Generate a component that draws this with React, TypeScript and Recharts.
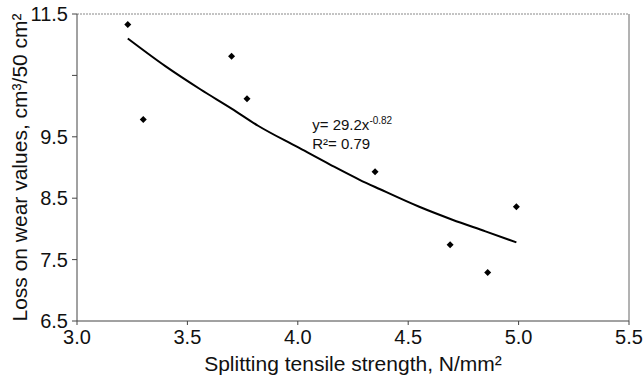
import {
  ComposedChart,
  Line,
  ReferenceDot,
  ReferenceLine,
  Scatter,
  XAxis,
  YAxis,
} from "recharts";

// measured points (splitting tensile strength vs loss on wear)
const strength = [3.23, 3.3, 3.7, 3.77, 4.35, 4.69, 4.86, 4.99];
const wearLoss = [11.33, 9.78, 10.81, 10.12, 8.93, 7.74, 7.29, 8.36];

// power trend line
const trendX = [3.23, 3.4, 3.56, 3.7, 3.82, 4.0, 4.15, 4.28, 4.37, 4.55, 4.7, 4.85, 4.99];
const trendY = [11.1, 10.65, 10.27, 9.96, 9.68, 9.33, 9.04, 8.8, 8.65, 8.36, 8.15, 7.96, 7.78];

const xTicks = [3.0, 3.5, 4.0, 4.5, 5.0, 5.5];
const yTicks = [6.5, 7.5, 8.5, 9.5, 10.5, 11.5];

const points = strength.map((x, i) => ({ x, y: wearLoss[i] }));
const trend = trendX.map((x, i) => ({ x, t: trendY[i] }));

const font = "'Liberation Sans', Arial, sans-serif";

function Diamond(props: any) {
  const { cx, cy } = props;
  const r = 3.5;
  return (
    <polygon
      points={`${cx},${cy - r} ${cx + r},${cy} ${cx},${cy + r} ${cx - r},${cy}`}
      fill="#000"
    />
  );
}

function Equation(props: any) {
  const { viewBox } = props;
  const x = viewBox.x;
  const y = viewBox.y;
  return (
    <g fontFamily={font} fill="#111">
      <text x={x} y={y} fontSize={15}>
        y= 29.2x
        <tspan dy={-6} fontSize={10}>
          -0.82
        </tspan>
      </text>
      <text x={x} y={y + 19} fontSize={15}>
        R²= 0.79
      </text>
    </g>
  );
}

export default function App() {
  return (
    <div
      style={{
        position: "absolute",
        left: 0,
        top: 0,
        width: 643,
        height: 375,
        background: "#fff",
        fontFamily: font,
      }}
    >
      <ComposedChart
        width={643}
        height={375}
        margin={{ top: 14, right: 14, left: 0, bottom: 0 }}
      >
        <XAxis
          type="number"
          dataKey="x"
          domain={[3.0, 5.5]}
          ticks={xTicks}
          tickFormatter={(v) => Number(v).toFixed(1)}
          height={54}
          tickSize={4}
          tickMargin={5}
          stroke="#444"
          tick={{ fill: "#111", fontSize: 20, fontFamily: font }}
          label={{
            value: "Splitting tensile strength, N/mm²",
            position: "insideBottom",
            offset: 4,
            fill: "#111",
            fontSize: 21,
            fontFamily: font,
          }}
          allowDataOverflow
        />
        <YAxis
          type="number"
          domain={[6.5, 11.5]}
          ticks={yTicks}
          tickFormatter={(v) => (v === 10.5 ? "" : Number(v).toFixed(1))}
          width={77}
          tickSize={5}
          tickMargin={4}
          stroke="#444"
          tick={{ fill: "#111", fontSize: 20, fontFamily: font }}
          label={{
            value: "Loss on wear values, cm³/50 cm²",
            angle: -90,
            position: "insideLeft",
            offset: 20,
            style: { textAnchor: "middle" },
            fill: "#111",
            fontSize: 21,
            fontFamily: font,
          }}
          allowDataOverflow
        />
        <ReferenceLine y={11.5} stroke="#888" strokeDasharray="2 1" />
        <ReferenceLine x={5.5} stroke="#666" />
        <Line
          data={trend}
          dataKey="t"
          type="monotone"
          stroke="#000"
          strokeWidth={2}
          dot={false}
          activeDot={false}
          isAnimationActive={false}
        />
        <Scatter
          data={points}
          dataKey="y"
          shape={Diamond}
          isAnimationActive={false}
        />
        <ReferenceDot
          x={4.07}
          y={9.59}
          r={1}
          fill="none"
          stroke="none"
          label={<Equation />}
        />
      </ComposedChart>
    </div>
  );
}
